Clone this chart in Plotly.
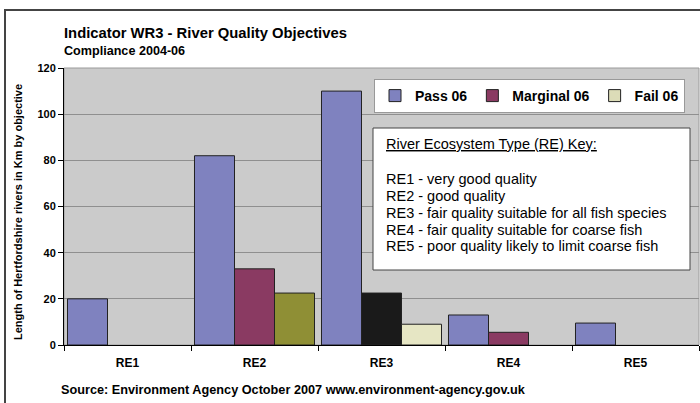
import plotly.graph_objects as go

categories = ["RE1", "RE2", "RE3", "RE4", "RE5"]
pass_06 = [20, 82, 110, 13, 9.5]
marginal_06 = [None, 33, 22.5, 5.5, None]
fail_06 = [None, 22.5, 9, None, None]
y_ticks = [0, 20, 40, 60, 80, 100, 120]
key_title = "River Ecosystem Type (RE) Key:"
key_lines = [
    "RE1 - very good quality",
    "RE2 - good quality",
    "RE3 - fair quality suitable for all fish species",
    "RE4 - fair quality suitable for coarse fish",
    "RE5 - poor quality likely to limit coarse fish",
]

FONT = "Arial, Liberation Sans, sans-serif"

pass_colors = ["#7f82bf"] * 5
marginal_colors = ["#8a3a62", "#8a3a62", "#1a1a1a", "#8a3a62", "#8a3a62"]
fail_colors = ["#dcdcb8", "#8f8f35", "#e6e6c4", "#dcdcb8", "#dcdcb8"]

fig = go.Figure()
for name, vals, cols in [("Pass 06", pass_06, pass_colors),
                         ("Marginal 06", marginal_06, marginal_colors),
                         ("Fail 06", fail_06, fail_colors)]:
    fig.add_trace(go.Bar(
        x=categories, y=vals, name=name,
        marker=dict(color=cols, line=dict(color="#222222", width=1)),
        hoverinfo="x+y+name",
    ))

L, R, T, B = 64, 1, 68, 58
W, H = 700, 403
pw, ph = W - L - R, H - T - B

def px(x):
    return (x - L) / pw

def py(y):
    return (H - B - y) / ph

fig.update_layout(
    width=W, height=H,
    margin=dict(l=L, r=R, t=T, b=B),
    paper_bgcolor="white",
    plot_bgcolor="#cbcbcb",
    barmode="group",
    bargap=0.055,
    bargroupgap=0,
    font=dict(family=FONT, color="black"),
    showlegend=True,
    legend=dict(
        orientation="h", x=px(374), y=py(79), xanchor="left", yanchor="top",
        bgcolor="white", bordercolor="#999999", borderwidth=1,
        font=dict(size=14, weight="bold", family=FONT),
        traceorder="normal", itemwidth=30,
    ),
    xaxis=dict(
        showline=True, linecolor="black", linewidth=1,
        ticks="outside", tickson="boundaries", ticklen=5, tickcolor="black",
        tickfont=dict(size=12, weight="bold", family=FONT),
        ticklabelstandoff=7,
        showgrid=False,
    ),
    yaxis=dict(
        range=[0, 120], tickvals=y_ticks,
        showline=True, linecolor="black", linewidth=1,
        ticks="outside", ticklen=5, tickcolor="black",
        tickfont=dict(size=11, weight="bold", family=FONT),
        showgrid=True, gridcolor="#8f8f8f", gridwidth=1,
        zeroline=False,
    ),
)

shapes = [
    # plot-area border
    dict(type="rect", xref="paper", yref="paper", x0=0, x1=1, y0=0, y1=1,
         line=dict(color="#9a9a9a", width=1), layer="below"),
    # outer chart frame
    dict(type="rect", xref="paper", yref="paper", x0=px(5), x1=1.3, y0=py(10), y1=-0.6,
         line=dict(color="#444444", width=2), layer="above"),
    # key box
    dict(type="rect", xref="paper", yref="paper", x0=px(373), x1=px(690), y0=py(128), y1=py(270),
         fillcolor="white", line=dict(color="#444444", width=1), layer="above"),
]
fig.update_layout(shapes=shapes)

ann = [
    dict(text="Indicator WR3 - River Quality Objectives", x=px(62), y=py(33),
         font=dict(size=14.8, weight="bold")),
    dict(text="Compliance 2004-06", x=px(62), y=py(51),
         font=dict(size=12.6, weight="bold")),
    dict(text="Source: Environment Agency October 2007 www.environment-agency.gov.uk",
         x=px(59), y=py(390), font=dict(size=12.7, weight="bold")),
    dict(text="<u>" + key_title + "</u>", x=px(384), y=py(144), font=dict(size=14.5)),
]
key_y = [179, 196, 213, 230, 246]
for t, yy in zip(key_lines, key_y):
    ann.append(dict(text=t, x=px(384), y=py(yy), font=dict(size=14.5)))

for a in ann:
    a.update(xref="paper", yref="paper", xanchor="left", yanchor="middle", showarrow=False)

ann.append(dict(text="Length of Hertfordshire rivers in Km by objective",
                xref="paper", yref="paper", x=px(18), y=py(212), textangle=-90,
                xanchor="center", yanchor="middle", showarrow=False,
                font=dict(size=11, weight="bold")))
fig.update_layout(annotations=ann)

fig.write_html("out.html",
               config={"displayModeBar": False},
               post_script="document.body.style.margin='0';document.body.style.overflow='hidden';")
